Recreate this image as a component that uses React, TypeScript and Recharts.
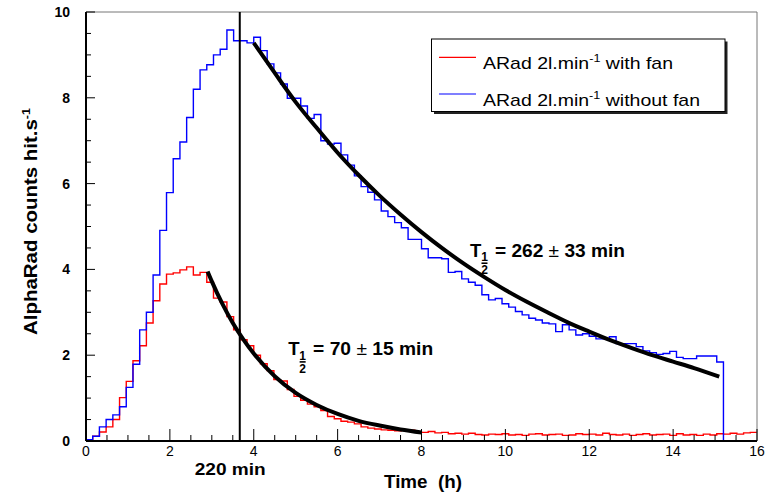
import React from 'react';
import { ComposedChart, Line, XAxis, YAxis, ReferenceLine, ReferenceDot, Legend } from 'recharts';

const FONT = '"Liberation Sans", Arial, Helvetica, sans-serif';

// histogram binning: 100 bins over 16 h
const BIN_WIDTH = 0.16;
const T_MAX = 16;

// ARad 2 l/min with fan (counts per second, one value per bin)
const withFan = [
  0.02, 0.11, 0.21, 0.33, 0.5, 1.01, 1.39, 1.87, 2.22, 2.75,
  3.27, 3.66, 3.89, 3.92, 3.99, 4.06, 3.87, 3.93, 3.7, 3.33,
  3.24, 2.9, 2.59, 2.36, 2.22, 2.0, 1.8, 1.64, 1.43, 1.4,
  1.2, 1.04, 0.95, 0.86, 0.8, 0.71, 0.57, 0.52, 0.46, 0.44,
  0.4, 0.33, 0.3, 0.28, 0.26, 0.25, 0.24, 0.26, 0.25, 0.21,
  0.2, 0.22, 0.19, 0.2, 0.17, 0.18, 0.16, 0.18, 0.15, 0.14,
  0.16, 0.15, 0.17, 0.14, 0.15, 0.13, 0.16, 0.17, 0.14, 0.15,
  0.16, 0.13, 0.14, 0.17, 0.15, 0.16, 0.14, 0.18, 0.15, 0.14,
  0.16, 0.13, 0.15, 0.17, 0.14, 0.15, 0.16, 0.13, 0.17, 0.14,
  0.15, 0.13, 0.16, 0.14, 0.17, 0.16, 0.18, 0.16, 0.19, 0.2,
];

// ARad 2 l/min without fan
const withoutFan = [
  0.03, 0.11, 0.33, 0.5, 0.61, 0.8, 1.25, 1.79, 2.59, 3.0,
  3.87, 4.91, 5.79, 6.58, 6.97, 7.54, 8.2, 8.65, 8.77, 9.0,
  9.13, 9.58, 9.33, 9.33, 9.28, 9.41, 9.1, 8.79, 8.58, 8.32,
  7.99, 7.99, 7.81, 7.52, 7.61, 7.0, 6.92, 6.94, 6.67, 6.43,
  6.18, 5.93, 5.8, 5.62, 5.36, 5.23, 5.09, 4.97, 4.7, 4.7,
  4.48, 4.27, 4.27, 4.25, 3.93, 3.95, 3.78, 3.7, 3.63, 3.41,
  3.29, 3.32, 3.2, 3.12, 3.02, 2.94, 2.86, 2.82, 2.75, 2.73,
  2.55, 2.71, 2.59, 2.47, 2.5, 2.44, 2.38, 2.38, 2.43, 2.27,
  2.27, 2.27, 2.2, 2.1, 2.06, 2.02, 2.04, 2.09, 1.95, 1.92,
  1.92, 1.98, 1.98, 1.98, 1.84, 0, 0, 0, 0, 0,
];

// exponential fits
const fitFanT = [2.9, 3.0, 3.25, 3.5, 3.75, 4.0, 4.5, 5.0, 5.5, 6.0, 6.5, 7.0, 7.5, 8.0];
const fitFanV = [3.95, 3.72, 3.2, 2.75, 2.37, 2.04, 1.51, 1.12, 0.84, 0.63, 0.47, 0.36, 0.27, 0.2];
const fitNoFanT = [4.0, 4.5, 5.0, 5.5, 6.0, 6.5, 7.0, 7.5, 8.0, 8.5, 9.0, 9.5, 10.0, 10.5, 11.0, 11.5, 12.0, 12.5, 13.0, 13.5, 14.0, 14.5, 15.1];
const fitNoFanV = [9.28, 8.58, 7.9, 7.3, 6.72, 6.2, 5.72, 5.28, 4.87, 4.49, 4.14, 3.82, 3.52, 3.25, 3.0, 2.76, 2.55, 2.35, 2.17, 2.0, 1.85, 1.7, 1.5];

const xTicks = Array.from({ length: 33 }, (_, i) => i * 0.5);
const yTicks = Array.from({ length: 21 }, (_, i) => i * 0.5);
const xLabels = [0, 2, 4, 6, 8, 10, 12, 14, 16];
const yLabels = [0, 2, 4, 6, 8, 10];

const cutMinutes = 220;

const toSteps = (vals: number[]) => [
  ...vals.map((y, i) => ({ x: i * BIN_WIDTH, y })),
  { x: T_MAX, y: vals[vals.length - 1] },
];
const toCurve = (ts: number[], vs: number[]) => ts.map((x, i) => ({ x, y: vs[i] }));

const fanData = toSteps(withFan);
const noFanData = toSteps(withoutFan);
const fitFan = toCurve(fitFanT, fitFanV);
const fitNoFan = toCurve(fitNoFanT, fitNoFanV);

const XTick = (props: any) => {
  const { x, y, payload } = props;
  const major = xLabels.includes(payload.value);
  return (
    <g>
      <line x1={x} x2={x} y1={y} y2={y - (major ? 12 : 6)} stroke="#000" strokeWidth={1} />
      {major && (
        <text x={x} y={y + 15.2} textAnchor="middle" fontSize={14} fontFamily={FONT} fill="#000">
          {payload.value}
        </text>
      )}
    </g>
  );
};

const YTick = (props: any) => {
  const { x, y, payload } = props;
  const major = yLabels.includes(payload.value);
  return (
    <g>
      <line x1={x} x2={x + (major ? 9 : 5)} y1={y} y2={y} stroke="#000" strokeWidth={1} />
      {major && (
        <text x={x - 16} y={y + 5} textAnchor="end" fontSize={14} fontWeight="bold" fontFamily={FONT} fill="#000">
          {payload.value}
        </text>
      )}
    </g>
  );
};

const halfLifeLabel = (value: string, err: string, width: number) => (props: any) => {
  const vb = props.viewBox;
  if (!vb) return null;
  const cx = vb.x + (vb.width || 0) / 2;
  const cy = vb.y + (vb.height || 0) / 2;
  return (
    <g fontFamily={FONT} fontWeight="bold" fill="#000">
      <text x={cx} y={cy} fontSize={18.5}>T</text>
      <text x={cx + 14.5} y={cy + 4.5} fontSize={12} textAnchor="middle">1</text>
      <line x1={cx + 11.5} x2={cx + 17.5} y1={cy + 6.7} y2={cy + 6.7} stroke="#000" strokeWidth={1.6} />
      <text x={cx + 14.5} y={cy + 17.5} fontSize={12} textAnchor="middle">2</text>
      <text x={cx + 25} y={cy} fontSize={18} textLength={width} lengthAdjust="spacingAndGlyphs">
        {`= ${value} `}<tspan fontWeight="normal">±</tspan>{` ${err} min`}
      </text>
    </g>
  );
};

const cutLabel = (props: any) => {
  const vb = props.viewBox;
  if (!vb) return null;
  return (
    <text x={vb.x - 45} y={vb.y + vb.height + 34} fontSize={17} fontWeight="bold" fontFamily={FONT}
      fill="#000" textLength={71} lengthAdjust="spacingAndGlyphs">
      {`${cutMinutes} min`}
    </text>
  );
};

const xTitle = (props: any) => {
  const vb = props.viewBox;
  if (!vb) return null;
  return (
    <text x={vb.x + vb.width / 2 + 1.5} y={vb.y + 47} textAnchor="middle" fontSize={18.5} fontWeight="bold"
      fontFamily={FONT} fill="#000" textLength={78} lengthAdjust="spacingAndGlyphs" style={{ whiteSpace: 'pre' }}>
      Time  (h)
    </text>
  );
};

const yTitle = () => {
  const cx = 36.5;
  const cy = 221.5;
  return (
    <text x={cx} y={cy} transform={`rotate(-90, ${cx}, ${cy})`} textAnchor="middle" fontSize={18}
      fontWeight="bold" fontFamily={FONT} fill="#000" textLength={227} lengthAdjust="spacingAndGlyphs">
      AlphaRad counts hit.s<tspan dy={-7} fontSize={11}>-1</tspan>
    </text>
  );
};

const LegendBox = () => (
  <svg width={300} height={80} style={{ display: 'block' }}>
    <rect x={4} y={4.5} width={293.5} height={72.5} fill="#222" />
    <rect x={1.5} y={2} width={293.5} height={72.5} fill="#fff" stroke="#000" strokeWidth={1} />
    <line x1={9} x2={46} y1={20.3} y2={20.3} stroke="#ff0000" strokeWidth={1.2} />
    <line x1={9} x2={46} y1={57} y2={57} stroke="#0000ff" strokeWidth={1.2} />
    <g fontFamily={FONT} fontSize={17} fill="#000">
      <text x={53} y={32} textLength={190} lengthAdjust="spacingAndGlyphs">
        ARad 2l.min<tspan dy={-7} fontSize={11}>-1</tspan><tspan dy={7}> with fan</tspan>
      </text>
      <text x={53} y={69} textLength={217} lengthAdjust="spacingAndGlyphs">
        ARad 2l.min<tspan dy={-7} fontSize={11}>-1</tspan><tspan dy={7}> without fan</tspan>
      </text>
    </g>
  </svg>
);

export default function App() {
  return (
    <div style={{ position: 'absolute', left: 0, top: 0, background: '#fff' }}>
      <ComposedChart width={767} height={492} margin={{ top: 12, right: 10, bottom: 21, left: 0 }}>
        <XAxis
          type="number"
          dataKey="x"
          domain={[0, T_MAX]}
          ticks={xTicks}
          interval={0}
          tickSize={0}
          tickMargin={0}
          tickLine={false}
          tick={XTick}
          height={30}
          axisLine={{ stroke: '#000', strokeWidth: 2 }}
          label={xTitle}
        />
        <YAxis
          type="number"
          domain={[0, 10]}
          ticks={yTicks}
          interval={0}
          tickSize={0}
          tickMargin={0}
          tickLine={false}
          tick={YTick}
          width={86}
          axisLine={{ stroke: '#000', strokeWidth: 2 }}
          label={yTitle}
        />
        <Legend
          layout="horizontal"
          verticalAlign="middle"
          align="center"
          content={() => <LegendBox />}
          wrapperStyle={{ left: 430, top: 37, width: 300, height: 80 }}
        />
        <Line data={fanData} dataKey="y" type="stepAfter" stroke="#ff0000" strokeWidth={1.4}
          dot={false} isAnimationActive={false} />
        <Line data={noFanData} dataKey="y" type="stepAfter" stroke="#0000ff" strokeWidth={1.4}
          dot={false} isAnimationActive={false} />
        <Line data={fitFan} dataKey="y" type="monotone" stroke="#000" strokeWidth={4}
          dot={false} isAnimationActive={false} />
        <Line data={fitNoFan} dataKey="y" type="monotone" stroke="#000" strokeWidth={4}
          dot={false} isAnimationActive={false} />
        <ReferenceLine y={10} stroke="#777" strokeWidth={1} />
        <ReferenceLine x={T_MAX} stroke="#777" strokeWidth={1} />
        <ReferenceLine x={cutMinutes / 60} stroke="#000" strokeWidth={2} label={cutLabel} />
        <ReferenceDot x={4.82} y={2.0} r={1} fill="none" stroke="none" label={halfLifeLabel('70', '15', 120)} />
        <ReferenceDot x={9.156} y={4.3} r={1} fill="none" stroke="none" label={halfLifeLabel('262', '33', 130)} />
      </ComposedChart>
    </div>
  );
}
